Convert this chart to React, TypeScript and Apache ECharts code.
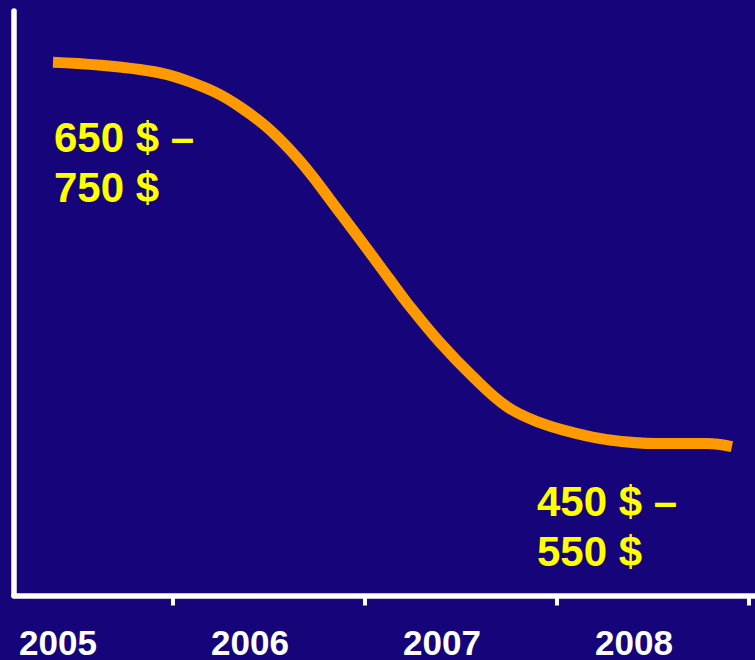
import React, { useEffect, useRef } from "react";
import * as echarts from "echarts";

// Curve: [year, price level]
const CURVE_YEARS = [
  2004.974, 2005.427, 2005.688, 2005.948, 2006.208, 2006.469, 2006.729, 2006.818,
  2006.99, 2007.161, 2007.339, 2007.51, 2007.682, 2007.859, 2008.12, 2008.38, 2008.51,
];
const CURVE_VALUES = [
  765, 760, 751.5, 734.4, 705, 661.9, 616, 600.3,
  573, 549.7, 529.2, 518.3, 511.5, 506.7, 504, 504, 501.9,
];
const LABEL_YEARS = [2005, 2006, 2007, 2008];
const TICK_YEARS = [2005.6, 2006.6, 2007.6, 2008.6];
const START_LABEL = ["650 $ –", "750 $"];
const END_LABEL = ["450 $ –", "550 $"];

const FONT = "'Liberation Sans', Arial, Helvetica, sans-serif";

export default function App() {
  const ref = useRef<HTMLDivElement>(null);
  useEffect(() => {
    if (!ref.current) return;
    const chart = echarts.init(ref.current, undefined, { renderer: "svg" });
    const data = CURVE_YEARS.map((x, i) => [x, CURVE_VALUES[i]]);
    chart.setOption({
      animation: false,
      backgroundColor: "#15047a",
      grid: { left: 14, right: 0, top: 11, bottom: 64, containLabel: false },
      xAxis: {
        type: "value",
        min: 2004.771,
        max: 2008.63,
        axisLine: { show: true, onZero: false, lineStyle: { color: "#ffffff", width: 5.5 } },
        axisTick: {
          show: true,
          customValues: TICK_YEARS,
          length: 10,
          lineStyle: { color: "#ffffff", width: 4 },
        },
        axisLabel: {
          customValues: LABEL_YEARS,
          formatter: (v: number) => String(Math.round(v)),
          color: "#ffffff",
          fontSize: 35,
          fontWeight: "bold",
          fontFamily: FONT,
          lineHeight: 26,
          margin: 34,
        },
        splitLine: { show: false },
      },
      yAxis: {
        type: "value",
        min: 400,
        max: 800,
        axisLine: { show: true, lineStyle: { color: "#ffffff", width: 5.5 } },
        axisTick: { show: false },
        axisLabel: { show: false },
        splitLine: { show: false },
      },
      series: [
        {
          type: "line",
          data,
          smooth: 0.4,
          showSymbol: false,
          symbol: "none",
          lineStyle: { color: "#ff9900", width: 11, cap: "butt" },
        },
      ],
      graphic: [
        {
          type: "text",
          left: 54,
          top: 112,
          style: {
            text: START_LABEL.join("\n"),
            fill: "#ffff00",
            fontSize: 42,
            fontWeight: "bold",
            fontFamily: FONT,
            lineHeight: 50,
          },
        },
        {
          type: "text",
          left: 537,
          top: 476,
          style: {
            text: END_LABEL.join("\n"),
            fill: "#ffff00",
            fontSize: 42,
            fontWeight: "bold",
            fontFamily: FONT,
            lineHeight: 50,
          },
        },
      ],
    });
    return () => chart.dispose();
  }, []);
  return (
    <div
      ref={ref}
      style={{ position: "absolute", left: 0, top: 0, width: 755, height: 660 }}
    />
  );
}
